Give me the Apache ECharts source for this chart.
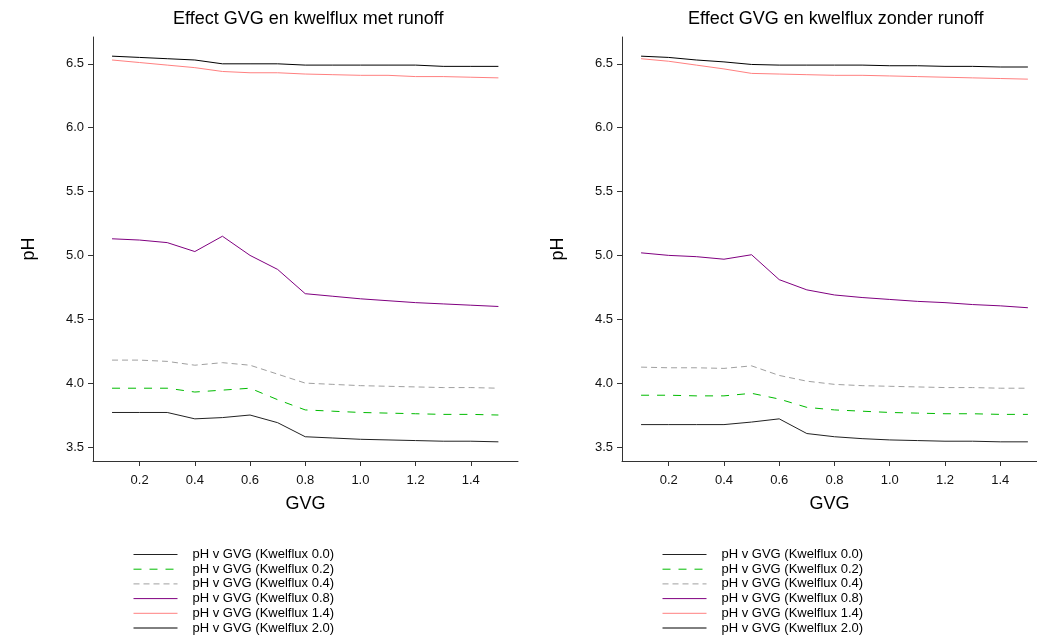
<!DOCTYPE html>
<html lang="nl">

<head>
    <meta charset="UTF-8">
    <title>Effect GVG en kwelflux</title>
    <script src="https://cdn.jsdelivr.net/npm/echarts@6/dist/echarts.min.js"></script>
    <style>
        html, body { margin: 0; padding: 0; background: #fff; }
        #main { width: 1037px; height: 639px; }
    </style>
</head>

<body>
<div id="main"></div>
<script>
    // GVG waarden (x-as)
    const gvg = [0.1, 0.2, 0.3, 0.4, 0.5, 0.6, 0.7, 0.8, 0.9, 1.0, 1.1, 1.2, 1.3, 1.4, 1.5]
    const xTicks = [0.2, 0.4, 0.6, 0.8, 1.0, 1.2, 1.4]
    const yTicks = [3.5, 4.0, 4.5, 5.0, 5.5, 6.0, 6.5]
    const seriesNames = ['pH v GVG (Kwelflux 0.0)', 'pH v GVG (Kwelflux 0.2)', 'pH v GVG (Kwelflux 0.4)',
        'pH v GVG (Kwelflux 0.8)', 'pH v GVG (Kwelflux 1.4)', 'pH v GVG (Kwelflux 2.0)']

    // met runoff
    const metK00 = [3.77, 3.77, 3.77, 3.72, 3.73, 3.75, 3.69, 3.58, 3.57, 3.56, 3.555, 3.55, 3.545, 3.545, 3.54]
    const metK02 = [3.96, 3.96, 3.96, 3.93, 3.945, 3.96, 3.87, 3.79, 3.78, 3.77, 3.765, 3.76, 3.755, 3.755, 3.75]
    const metK04 = [4.18, 4.18, 4.17, 4.14, 4.16, 4.14, 4.07, 4.00, 3.99, 3.98, 3.975, 3.97, 3.965, 3.965, 3.96]
    const metK08 = [5.13, 5.12, 5.10, 5.03, 5.15, 5.00, 4.89, 4.70, 4.68, 4.66, 4.645, 4.63, 4.62, 4.61, 4.60]
    const metK14 = [6.53, 6.51, 6.49, 6.47, 6.44, 6.43, 6.43, 6.42, 6.415, 6.41, 6.41, 6.40, 6.40, 6.395, 6.39]
    const metK20 = [6.56, 6.55, 6.54, 6.53, 6.50, 6.50, 6.50, 6.49, 6.49, 6.49, 6.49, 6.49, 6.48, 6.48, 6.48]

    // zonder runoff
    const zonderK00 = [3.675, 3.675, 3.675, 3.675, 3.695, 3.72, 3.605, 3.58, 3.565, 3.555, 3.55, 3.545, 3.545, 3.54, 3.54]
    const zonderK02 = [3.905, 3.905, 3.90, 3.90, 3.92, 3.875, 3.81, 3.79, 3.78, 3.77, 3.765, 3.76, 3.76, 3.755, 3.755]
    const zonderK04 = [4.125, 4.12, 4.12, 4.115, 4.135, 4.06, 4.015, 3.99, 3.98, 3.975, 3.97, 3.965, 3.965, 3.96, 3.96]
    const zonderK08 = [5.02, 5.00, 4.99, 4.97, 5.005, 4.81, 4.73, 4.69, 4.67, 4.655, 4.64, 4.63, 4.615, 4.605, 4.59]
    const zonderK14 = [6.54, 6.52, 6.49, 6.46, 6.425, 6.42, 6.415, 6.41, 6.41, 6.405, 6.40, 6.395, 6.39, 6.385, 6.38]
    const zonderK20 = [6.56, 6.55, 6.53, 6.515, 6.495, 6.49, 6.49, 6.49, 6.49, 6.485, 6.485, 6.48, 6.48, 6.475, 6.475]

    const lineStyles = [
        { color: '#222222', width: 1, type: 'solid' },
        { color: '#00bb00', width: 1, type: [8, 8] },
        { color: '#a0a0a0', width: 1, type: [6, 4] },
        { color: '#800080', width: 1, type: 'solid' },
        { color: '#ff8080', width: 1, type: 'solid' },
        { color: '#000000', width: 1, type: 'solid' }
    ]

    const font = 'Liberation Sans, Arial, sans-serif'
    const axisColor = '#333'

    function makeSeries(idx, sets) {
        return sets.map((vals, i) => ({
            name: seriesNames[i],
            type: 'line',
            xAxisIndex: idx,
            yAxisIndex: idx,
            symbol: 'none',
            silent: true,
            lineStyle: lineStyles[i],
            itemStyle: { color: lineStyles[i].color },
            data: gvg.map((x, j) => [x, vals[j]])
        }))
    }

    function xAxis(idx, max) {
        return {
            type: 'value', gridIndex: idx, min: 0.031, max: max,
            name: 'GVG', nameLocation: 'middle', nameGap: 34,
            nameTextStyle: { fontSize: 18, color: '#000', fontFamily: font },
            axisLine: { show: true, lineStyle: { color: axisColor, width: 1 } },
            axisTick: { show: true, length: 5, customValues: xTicks, lineStyle: { color: axisColor } },
            axisLabel: { customValues: xTicks, margin: 13, fontSize: 13, color: '#111', fontFamily: font,
                formatter: v => v.toFixed(1) },
            splitLine: { show: false }
        }
    }

    function yAxis(idx) {
        return {
            type: 'value', gridIndex: idx, min: 3.39, max: 6.71,
            name: 'pH', nameLocation: 'middle', nameGap: 55, nameRotate: 90,
            nameTextStyle: { fontSize: 18, color: '#000', fontFamily: font },
            axisLine: { show: true, lineStyle: { color: axisColor, width: 1 } },
            axisTick: { show: true, length: 5, customValues: yTicks, lineStyle: { color: axisColor } },
            axisLabel: { customValues: yTicks, margin: 9, fontSize: 13, color: '#111', fontFamily: font,
                formatter: v => v.toFixed(1) },
            splitLine: { show: false }
        }
    }

    function legend(left) {
        return {
            left: left, top: 548, orient: 'vertical', padding: 0,
            itemWidth: 44, itemHeight: 10, itemGap: 1.7,
            selectedMode: false,
            itemStyle: { opacity: 0 },
            lineStyle: { width: 1 },
            data: seriesNames,
            textStyle: { fontSize: 13, color: '#000', fontFamily: font, padding: [2, 0, 0, 10] }
        }
    }

    const option = {
        animation: false,
        backgroundColor: '#fff',
        title: [
            { text: 'Effect GVG en kwelflux met runoff', left: 168, top: 5,
              textStyle: { fontSize: 18, fontWeight: 'normal', color: '#000', fontFamily: font } },
            { text: 'Effect GVG en kwelflux zonder runoff', left: 683, top: 5,
              textStyle: { fontSize: 18, fontWeight: 'normal', color: '#000', fontFamily: font } }
        ],
        legend: [legend(133), legend(662)],
        grid: [
            { left: 93, top: 37, width: 425, height: 424 },
            { left: 622, top: 37, right: 0, height: 424 }
        ],
        xAxis: [xAxis(0, 1.571), xAxis(1, 1.533)],
        yAxis: [yAxis(0), yAxis(1)],
        series: [
            ...makeSeries(0, [metK00, metK02, metK04, metK08, metK14, metK20]),
            ...makeSeries(1, [zonderK00, zonderK02, zonderK04, zonderK08, zonderK14, zonderK20])
        ]
    }

    const chart = echarts.init(document.getElementById('main'))
    chart.setOption(option)
</script>
</body>

</html>
